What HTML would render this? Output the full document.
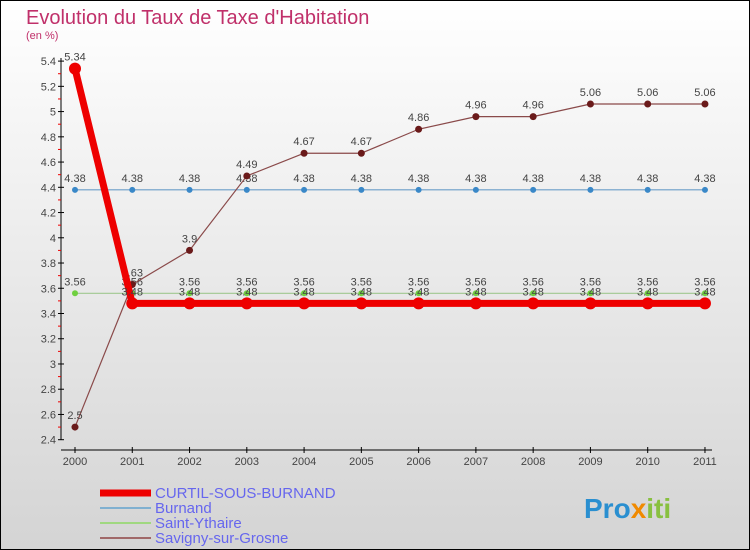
<!DOCTYPE html>
<html><head><meta charset="utf-8"><style>
body{margin:0}
svg{display:block;font-family:"Liberation Sans",sans-serif}
</style></head><body>
<svg width="750" height="550" viewBox="0 0 750 550">
<defs><linearGradient id="bg" x1="0" y1="0" x2="0" y2="1"><stop offset="0" stop-color="#ffffff"/><stop offset="1" stop-color="#d4d4d4"/></linearGradient></defs>
<rect x="0.5" y="0.5" width="749" height="549" fill="url(#bg)" stroke="#000"/>
<text x="26" y="24" font-size="20" fill="#c0306a">Evolution du Taux de Taxe d'Habitation</text>
<text x="26" y="39" font-size="11" fill="#c0306a">(en %)</text>
<g id="axes"></g>
<g id="series"></g>
<g id="legend"></g>
<text x="584" y="518" font-size="28" font-weight="bold" fill="#2a8fd0">Pro<tspan fill="#f08a00">x</tspan><tspan fill="#88c040">iti</tspan></text>
</svg>
<script>
const years=["2000","2001","2002","2003","2004","2005","2006","2007","2008","2009","2010","2011"];
const curtil=[5.34,3.48,3.48,3.48,3.48,3.48,3.48,3.48,3.48,3.48,3.48,3.48];
const burnand=[4.38,4.38,4.38,4.38,4.38,4.38,4.38,4.38,4.38,4.38,4.38,4.38];
const ythaire=[3.56,3.56,3.56,3.56,3.56,3.56,3.56,3.56,3.56,3.56,3.56,3.56];
const savigny=[2.5,3.63,3.9,4.49,4.67,4.67,4.86,4.96,4.96,5.06,5.06,5.06];
const yTicks=[2.4,2.6,2.8,3,3.2,3.4,3.6,3.8,4,4.2,4.4,4.6,4.8,5,5.2,5.4];
const seriesNames=["CURTIL-SOUS-BURNAND","Burnand","Saint-Ythaire","Savigny-sur-Grosne"];
const NS="http://www.w3.org/2000/svg";
const xs=i=>75+i*57.27;
const ys=v=>439.7-(v-2.4)*126.2;
function mk(p,t,a){const e=document.createElementNS(NS,t);for(const k in a)e.setAttribute(k,a[k]);p.appendChild(e);return e;}
const ax=document.getElementById('axes');
let l=mk(ax,'line',{x1:61,y1:58,x2:61,y2:440,stroke:'#000'});


l=mk(ax,'line',{x1:61,y1:450,x2:712,y2:450,stroke:'#000'});


yTicks.forEach((v,i)=>{const y=ys(v);
 mk(ax,'line',{x1:58,y1:y,x2:64,y2:y,stroke:'#000'});
 if(i<yTicks.length-1) mk(ax,'line',{x1:58,y1:ys(v+0.1),x2:61,y2:ys(v+0.1),stroke:'#e00'});
 const t=mk(ax,'text',{x:56,y:y+4,'font-size':11,fill:'#444','text-anchor':'end'});t.textContent=String(v);
 
 
});
years.forEach((yr,i)=>{const x=xs(i);
 mk(ax,'line',{x1:x,y1:447,x2:x,y2:453,stroke:'#000'});
 const t=mk(ax,'text',{x:x,y:465,'font-size':11,fill:'#444','text-anchor':'middle'});t.textContent=yr;
 
 
});
const sg=document.getElementById('series');
const defs=[[burnand,'#6a9ec8','#3a88c8',1.2,3,'burnand'],[ythaire,'#a0c890','#70d040',1.2,3,'saint-ythaire'],[savigny,'#8a4a4a','#6a1a1a',1.2,3.5,'savigny-sur-grosne'],[curtil,'#ee0000','#ee0000',7,6,'curtil-sous-burnand']];
defs.forEach(([d,lc,pc,w,r,nm])=>{
 const g=mk(sg,'g',{});
 
 
 const p=mk(g,'polyline',{points:d.map((v,i)=>xs(i)+','+ys(v)).join(' '),fill:'none',stroke:lc,'stroke-width':w,'stroke-linejoin':'round'});
 
 
 d.forEach((v,i)=>{
  const c=mk(g,'circle',{cx:xs(i),cy:ys(v),r:r,fill:pc});
  
  
  const t=mk(g,'text',{x:xs(i),y:ys(v)-8,'font-size':11,fill:'#444','text-anchor':'middle'});t.textContent=String(v);
  
  
 });
});
const lg=document.getElementById('legend');
const lcols=['#ee0000','#80b0d0','#a0d880','#a06868'];const lw=[7,2,2,2];
seriesNames.forEach((n,i)=>{const y=493+i*15;
 const g=mk(lg,'g',{});
 
 
 mk(g,'line',{x1:100,y1:y,x2:151,y2:y,stroke:lcols[i],'stroke-width':lw[i]});
 const t=mk(g,'text',{x:155,y:y+5,'font-size':15,fill:'#6666ee'});t.textContent=n;
});
</script>
</body></html>
